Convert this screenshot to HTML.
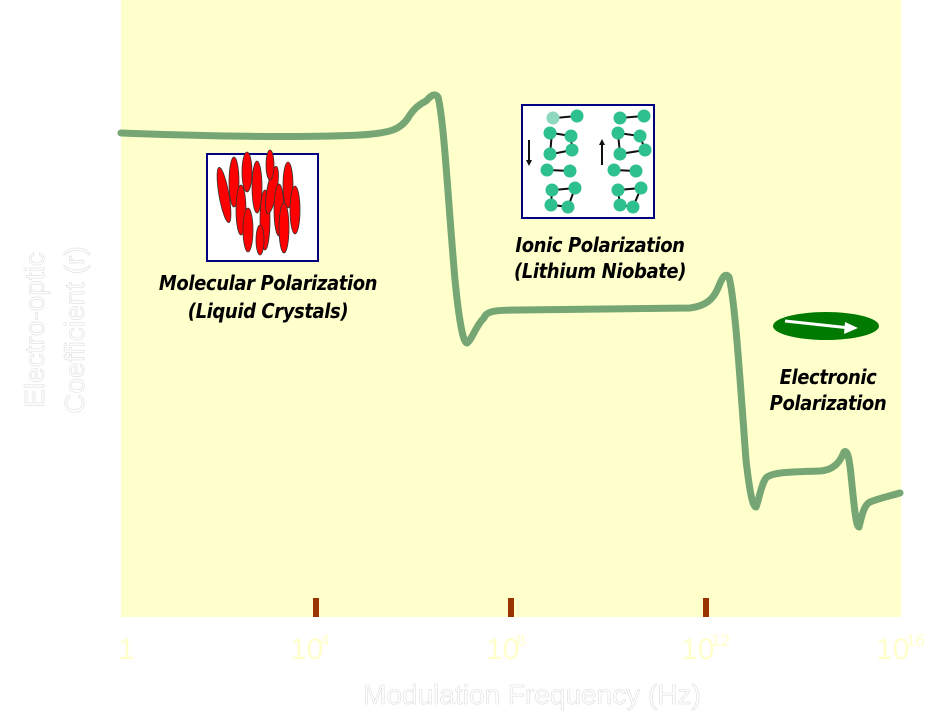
<!DOCTYPE html>
<html><head><meta charset="utf-8"><style>
html,body{margin:0;padding:0;background:#fff;}
svg{display:block;}
.lbl{font-family:"DejaVu Sans Condensed","DejaVu Sans",sans-serif;font-style:italic;font-weight:bold;font-size:20px;fill:#000;letter-spacing:-0.4px;}
.tk{font-family:"Liberation Sans Narrow","Liberation Sans",sans-serif;font-size:30px;fill:#ffffcc;}
.sp{font-family:"Liberation Sans Narrow","Liberation Sans",sans-serif;font-size:17px;fill:#ffffcc;}
.ax{font-family:"Liberation Sans",sans-serif;font-size:28px;fill:#fff;stroke:#ddd;stroke-width:0.6;}
</style></head><body>
<svg width="948" height="720" viewBox="0 0 948 720" xmlns="http://www.w3.org/2000/svg">
<rect x="121" y="0" width="780" height="617" fill="#ffffcc"/>
<g fill="#993300">
<rect x="313" y="598" width="6" height="19"/>
<rect x="508" y="598" width="6" height="19"/>
<rect x="703" y="598" width="6" height="19"/>
</g>
<path d="M121,133 C200,136 300,138 360,135 C390,133 400,130 408,118 C414,108 420,104 426,101 C430,97 434,92 438,97 C444,120 448,200 455,280 C459,320 463,343 467,343 C472,340 476,325 484,318 C486,311 495,310 520,310 L690,308 C705,306 713,300 718,288 C722,278 725,272 729,277 C735,300 740,380 746,460 C750,495 753,507 756,507 C759,500 761,485 766,478 C772,472 790,472 820,471 C834,470 840,462 844,452 C847,450 849,455 851,475 C854,505 856,527 859,527 C862,515 864,505 870,502 C880,498 890,496 900,493" fill="none" stroke="#76a674" stroke-width="7" stroke-linecap="round" stroke-linejoin="round"/>
<rect x="207" y="154" width="111" height="107" fill="#fff" stroke="#000080" stroke-width="2"/>
<g fill="#ff0000" stroke="#333" stroke-width="0.8">
<ellipse cx="224" cy="195" rx="5" ry="28" transform="rotate(-10 224 195)"/>
<ellipse cx="234" cy="182" rx="5" ry="25"/>
<ellipse cx="247" cy="172" rx="5" ry="20"/>
<ellipse cx="241" cy="210" rx="5" ry="25"/>
<ellipse cx="257" cy="187" rx="5" ry="26"/>
<ellipse cx="265" cy="220" rx="5" ry="30"/>
<ellipse cx="260" cy="240" rx="4" ry="15"/>
<ellipse cx="272" cy="190" rx="5" ry="24" transform="rotate(10 272 190)"/>
<ellipse cx="279" cy="210" rx="5" ry="26"/>
<ellipse cx="288" cy="185" rx="5" ry="23"/>
<ellipse cx="284" cy="228" rx="5" ry="25"/>
<ellipse cx="295" cy="210" rx="5" ry="24"/>
<ellipse cx="248" cy="230" rx="5" ry="22"/>
<ellipse cx="270" cy="165" rx="4" ry="15"/>
</g>
<rect x="522" y="105" width="132" height="113" fill="#fff" stroke="#000080" stroke-width="2"/>
<g stroke="#111" stroke-width="2">
<line x1="555" y1="118" x2="577" y2="116"/><line x1="552" y1="133" x2="571" y2="136"/><line x1="552" y1="154" x2="572" y2="150"/><line x1="549" y1="170" x2="570" y2="171"/><line x1="554" y1="190" x2="575" y2="188"/><line x1="553" y1="205" x2="568" y2="207"/>
<line x1="552" y1="133" x2="550" y2="154"/><line x1="571" y1="136" x2="572" y2="150"/><line x1="552" y1="190" x2="551" y2="205"/><line x1="575" y1="188" x2="568" y2="207"/>
<line x1="620" y1="118" x2="644" y2="116"/><line x1="618" y1="133" x2="640" y2="136"/><line x1="620" y1="154" x2="645" y2="150"/><line x1="614" y1="170" x2="636" y2="171"/><line x1="618" y1="190" x2="641" y2="188"/><line x1="620" y1="205" x2="633" y2="207"/>
<line x1="618" y1="133" x2="620" y2="154"/><line x1="640" y1="136" x2="645" y2="150"/><line x1="618" y1="190" x2="620" y2="205"/><line x1="641" y1="188" x2="633" y2="207"/>
<line x1="529" y1="140" x2="529" y2="160"/><line x1="602" y1="145" x2="602" y2="165"/>
</g>
<g fill="#2fc08f">
<circle cx="553" cy="118" r="6.5" fill="#8fd8c0"/><circle cx="577" cy="116" r="6.5"/><circle cx="550" cy="133" r="6.5"/><circle cx="571" cy="136" r="6.5"/><circle cx="550" cy="154" r="6.5"/><circle cx="572" cy="150" r="6.5"/><circle cx="547" cy="170" r="6.5"/><circle cx="570" cy="171" r="6.5"/><circle cx="552" cy="190" r="6.5"/><circle cx="575" cy="188" r="6.5"/><circle cx="551" cy="205" r="6.5"/><circle cx="568" cy="207" r="6.5"/>
<circle cx="620" cy="118" r="6.5"/><circle cx="644" cy="116" r="6.5"/><circle cx="618" cy="133" r="6.5"/><circle cx="640" cy="136" r="6.5"/><circle cx="620" cy="154" r="6.5"/><circle cx="645" cy="150" r="6.5"/><circle cx="614" cy="170" r="6.5"/><circle cx="636" cy="171" r="6.5"/><circle cx="618" cy="190" r="6.5"/><circle cx="641" cy="188" r="6.5"/><circle cx="620" cy="205" r="6.5"/><circle cx="633" cy="207" r="6.5"/>
</g>
<polygon points="526,160 532,160 529,166" fill="#111"/><polygon points="599,145 605,145 602,139" fill="#111"/>
<ellipse cx="826" cy="326" rx="53" ry="14" fill="#007a00"/>
<line x1="785" y1="321" x2="850" y2="328" stroke="#fff" stroke-width="3"/>
<polygon points="858,328 845,322 844,334" fill="#fff"/>
<text class="lbl" x="268" y="290" text-anchor="middle">Molecular Polarization</text>
<text class="lbl" x="268" y="318" text-anchor="middle">(Liquid Crystals)</text>
<text class="lbl" x="600" y="252" text-anchor="middle">Ionic Polarization</text>
<text class="lbl" x="600" y="278" text-anchor="middle">(Lithium Niobate)</text>
<text class="lbl" x="828" y="384" text-anchor="middle">Electronic</text>
<text class="lbl" x="828" y="410" text-anchor="middle">Polarization</text>
<text class="tk" x="118" y="659">1</text>
<text class="tk" x="290" y="659">10</text><text class="sp" x="320" y="646">4</text>
<text class="tk" x="486" y="659">10</text><text class="sp" x="516" y="646">8</text>
<text class="tk" x="681" y="659">10</text><text class="sp" x="711" y="646">12</text>
<text class="tk" x="876" y="659">10</text><text class="sp" x="906" y="646">16</text>
<text class="ax" x="532" y="704" text-anchor="middle">Modulation Frequency (Hz)</text>
<text class="ax" transform="translate(44 330) rotate(-90)" text-anchor="middle">Electro-optic</text>
<text class="ax" transform="translate(84 330) rotate(-90)" text-anchor="middle">Coefficient (r)</text>
</svg>
</body></html>
